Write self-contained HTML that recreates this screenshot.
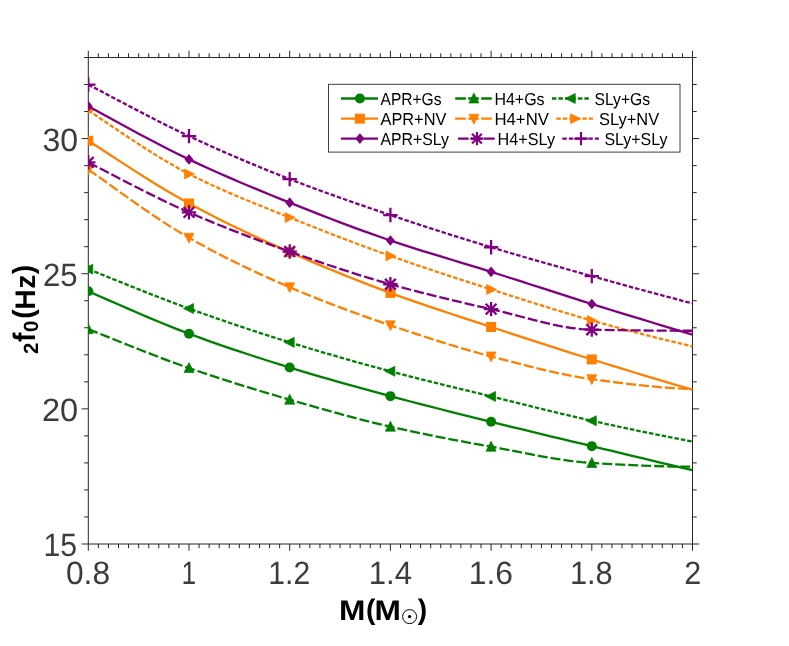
<!DOCTYPE html>
<html><head><meta charset="utf-8"><title>chart</title>
<style>html,body{margin:0;padding:0;background:#fff}svg{display:block;will-change:transform}text{text-rendering:geometricPrecision}</style>
</head><body>
<svg width="789" height="646" viewBox="0 0 789 646">
<rect width="789" height="646" fill="#fff"/>
<defs><clipPath id="c"><rect x="88.1" y="57.5" width="604.8" height="486.5"/></clipPath></defs>
<path d="M88.3 57.5H692.5V544H88.3ZM88.3 544v6.7M88.3 57.5v-6.7M98.37 544v4.2M98.37 57.5v-4.2M108.44 544v4.2M108.44 57.5v-4.2M118.51 544v4.2M118.51 57.5v-4.2M128.58 544v4.2M128.58 57.5v-4.2M138.65 544v4.2M138.65 57.5v-4.2M148.72 544v4.2M148.72 57.5v-4.2M158.79 544v4.2M158.79 57.5v-4.2M168.86 544v4.2M168.86 57.5v-4.2M178.93 544v4.2M178.93 57.5v-4.2M189 544v6.7M189 57.5v-6.7M199.07 544v4.2M199.07 57.5v-4.2M209.14 544v4.2M209.14 57.5v-4.2M219.21 544v4.2M219.21 57.5v-4.2M229.28 544v4.2M229.28 57.5v-4.2M239.35 544v4.2M239.35 57.5v-4.2M249.42 544v4.2M249.42 57.5v-4.2M259.49 544v4.2M259.49 57.5v-4.2M269.56 544v4.2M269.56 57.5v-4.2M279.63 544v4.2M279.63 57.5v-4.2M289.7 544v6.7M289.7 57.5v-6.7M299.77 544v4.2M299.77 57.5v-4.2M309.84 544v4.2M309.84 57.5v-4.2M319.91 544v4.2M319.91 57.5v-4.2M329.98 544v4.2M329.98 57.5v-4.2M340.05 544v4.2M340.05 57.5v-4.2M350.12 544v4.2M350.12 57.5v-4.2M360.19 544v4.2M360.19 57.5v-4.2M370.26 544v4.2M370.26 57.5v-4.2M380.33 544v4.2M380.33 57.5v-4.2M390.4 544v6.7M390.4 57.5v-6.7M400.47 544v4.2M400.47 57.5v-4.2M410.54 544v4.2M410.54 57.5v-4.2M420.61 544v4.2M420.61 57.5v-4.2M430.68 544v4.2M430.68 57.5v-4.2M440.75 544v4.2M440.75 57.5v-4.2M450.82 544v4.2M450.82 57.5v-4.2M460.89 544v4.2M460.89 57.5v-4.2M470.96 544v4.2M470.96 57.5v-4.2M481.03 544v4.2M481.03 57.5v-4.2M491.1 544v6.7M491.1 57.5v-6.7M501.17 544v4.2M501.17 57.5v-4.2M511.24 544v4.2M511.24 57.5v-4.2M521.31 544v4.2M521.31 57.5v-4.2M531.38 544v4.2M531.38 57.5v-4.2M541.45 544v4.2M541.45 57.5v-4.2M551.52 544v4.2M551.52 57.5v-4.2M561.59 544v4.2M561.59 57.5v-4.2M571.66 544v4.2M571.66 57.5v-4.2M581.73 544v4.2M581.73 57.5v-4.2M591.8 544v6.7M591.8 57.5v-6.7M601.87 544v4.2M601.87 57.5v-4.2M611.94 544v4.2M611.94 57.5v-4.2M622.01 544v4.2M622.01 57.5v-4.2M632.08 544v4.2M632.08 57.5v-4.2M642.15 544v4.2M642.15 57.5v-4.2M652.22 544v4.2M652.22 57.5v-4.2M662.29 544v4.2M662.29 57.5v-4.2M672.36 544v4.2M672.36 57.5v-4.2M682.43 544v4.2M682.43 57.5v-4.2M692.5 544v6.7M692.5 57.5v-6.7M88.3 544h-6.7M692.5 544h6.7M88.3 516.97h-4.2M692.5 516.97h4.2M88.3 489.94h-4.2M692.5 489.94h4.2M88.3 462.92h-4.2M692.5 462.92h4.2M88.3 435.89h-4.2M692.5 435.89h4.2M88.3 408.86h-6.7M692.5 408.86h6.7M88.3 381.83h-4.2M692.5 381.83h4.2M88.3 354.81h-4.2M692.5 354.81h4.2M88.3 327.78h-4.2M692.5 327.78h4.2M88.3 300.75h-4.2M692.5 300.75h4.2M88.3 273.72h-6.7M692.5 273.72h6.7M88.3 246.69h-4.2M692.5 246.69h4.2M88.3 219.67h-4.2M692.5 219.67h4.2M88.3 192.64h-4.2M692.5 192.64h4.2M88.3 165.61h-4.2M692.5 165.61h4.2M88.3 138.58h-6.7M692.5 138.58h6.7M88.3 111.56h-4.2M692.5 111.56h4.2M88.3 84.53h-4.2M692.5 84.53h4.2M88.3 57.5h-4.2M692.5 57.5h4.2" fill="none" stroke="#262626" stroke-width="1"/>
<g clip-path="url(#c)">
<polyline points="88.3,291.29 98.37,295.68 108.44,300.1 118.51,304.51 128.58,308.91 138.65,313.27 148.72,317.57 158.79,321.78 168.86,325.9 178.93,329.88 189,333.72 199.07,337.44 209.14,341.06 219.21,344.6 229.28,348.06 239.35,351.44 249.42,354.76 259.49,358.02 269.56,361.23 279.63,364.39 289.7,367.51 299.77,370.58 309.84,373.59 319.91,376.55 329.98,379.46 340.05,382.32 350.12,385.15 360.19,387.94 370.26,390.7 380.33,393.44 390.4,396.16 400.47,398.85 410.54,401.5 420.61,404.11 430.68,406.7 440.75,409.26 450.82,411.8 460.89,414.32 470.96,416.83 481.03,419.34 491.1,421.83 501.17,424.32 511.24,426.79 521.31,429.24 531.38,431.67 541.45,434.1 551.52,436.51 561.59,438.92 571.66,441.33 581.73,443.74 591.8,446.16 601.87,448.58 611.94,450.99 622.01,453.4 632.08,455.81 642.15,458.22 652.22,460.62 662.29,463.03 672.36,465.42 682.43,467.82 692.5,470.21" fill="none" stroke="#008000" stroke-width="2.3" stroke-linejoin="round"/>
<circle cx="88.3" cy="291.29" r="5" fill="#008000"/>
<circle cx="189" cy="333.72" r="5" fill="#008000"/>
<circle cx="289.7" cy="367.51" r="5" fill="#008000"/>
<circle cx="390.4" cy="396.16" r="5" fill="#008000"/>
<circle cx="491.1" cy="421.83" r="5" fill="#008000"/>
<circle cx="591.8" cy="446.16" r="5" fill="#008000"/>
<polyline points="88.3,329.13 98.37,333.15 108.44,337.18 118.51,341.22 128.58,345.24 138.65,349.23 148.72,353.17 158.79,357.03 168.86,360.82 178.93,364.49 189,368.05 199.07,371.5 209.14,374.87 219.21,378.17 229.28,381.41 239.35,384.58 249.42,387.69 259.49,390.76 269.56,393.77 279.63,396.74 289.7,399.67 299.77,402.58 309.84,405.48 319.91,408.35 329.98,411.18 340.05,413.96 350.12,416.67 360.19,419.32 370.26,421.88 380.33,424.34 390.4,426.7 400.47,428.96 410.54,431.15 420.61,433.27 430.68,435.33 440.75,437.33 450.82,439.29 460.89,441.2 470.96,443.06 481.03,444.9 491.1,446.7 501.17,448.55 511.24,450.48 521.31,452.45 531.38,454.4 541.45,456.28 551.52,458.04 561.59,459.64 571.66,461.02 581.73,462.13 591.8,462.92 601.87,463.52 611.94,464.1 622.01,464.64 632.08,465.13 642.15,465.58 652.22,465.96 662.29,466.27 672.36,466.5 682.43,466.65 692.5,466.7" fill="none" stroke="#008000" stroke-width="2.3" stroke-linejoin="round" stroke-dasharray="10 3"/>
<path transform="translate(88.3 329.13)" d="M0 -5.5L5 4.5L-5 4.5Z" fill="#008000" stroke="#008000" stroke-width="0.7" stroke-linejoin="miter"/>
<path transform="translate(189 368.05)" d="M0 -5.5L5 4.5L-5 4.5Z" fill="#008000" stroke="#008000" stroke-width="0.7" stroke-linejoin="miter"/>
<path transform="translate(289.7 399.67)" d="M0 -5.5L5 4.5L-5 4.5Z" fill="#008000" stroke="#008000" stroke-width="0.7" stroke-linejoin="miter"/>
<path transform="translate(390.4 426.7)" d="M0 -5.5L5 4.5L-5 4.5Z" fill="#008000" stroke="#008000" stroke-width="0.7" stroke-linejoin="miter"/>
<path transform="translate(491.1 446.7)" d="M0 -5.5L5 4.5L-5 4.5Z" fill="#008000" stroke="#008000" stroke-width="0.7" stroke-linejoin="miter"/>
<path transform="translate(591.8 462.92)" d="M0 -5.5L5 4.5L-5 4.5Z" fill="#008000" stroke="#008000" stroke-width="0.7" stroke-linejoin="miter"/>
<polyline points="88.3,269.13 98.37,273.17 108.44,277.23 118.51,281.28 128.58,285.33 138.65,289.35 148.72,293.33 158.79,297.25 168.86,301.11 178.93,304.9 189,308.59 199.07,312.2 209.14,315.76 219.21,319.27 229.28,322.73 239.35,326.14 249.42,329.49 259.49,332.79 269.56,336.04 279.63,339.23 289.7,342.37 299.77,345.46 309.84,348.51 319.91,351.51 329.98,354.46 340.05,357.37 350.12,360.23 360.19,363.06 370.26,365.84 380.33,368.58 390.4,371.29 400.47,373.95 410.54,376.56 420.61,379.12 430.68,381.64 440.75,384.13 450.82,386.6 460.89,389.06 470.96,391.51 481.03,393.96 491.1,396.43 501.17,398.91 511.24,401.4 521.31,403.9 531.38,406.4 541.45,408.88 551.52,411.33 561.59,413.76 571.66,416.14 581.73,418.48 591.8,420.75 601.87,422.98 611.94,425.18 622.01,427.35 632.08,429.48 642.15,431.58 652.22,433.65 662.29,435.68 672.36,437.68 682.43,439.64 692.5,441.56" fill="none" stroke="#008000" stroke-width="2.3" stroke-linejoin="round" stroke-dasharray="4.5 2"/>
<path transform="translate(88.3 269.13)" d="M-5.5 0L4.5 -5L4.5 5Z" fill="#008000" stroke="#008000" stroke-width="0.7" stroke-linejoin="miter"/>
<path transform="translate(189 308.59)" d="M-5.5 0L4.5 -5L4.5 5Z" fill="#008000" stroke="#008000" stroke-width="0.7" stroke-linejoin="miter"/>
<path transform="translate(289.7 342.37)" d="M-5.5 0L4.5 -5L4.5 5Z" fill="#008000" stroke="#008000" stroke-width="0.7" stroke-linejoin="miter"/>
<path transform="translate(390.4 371.29)" d="M-5.5 0L4.5 -5L4.5 5Z" fill="#008000" stroke="#008000" stroke-width="0.7" stroke-linejoin="miter"/>
<path transform="translate(491.1 396.43)" d="M-5.5 0L4.5 -5L4.5 5Z" fill="#008000" stroke="#008000" stroke-width="0.7" stroke-linejoin="miter"/>
<path transform="translate(591.8 420.75)" d="M-5.5 0L4.5 -5L4.5 5Z" fill="#008000" stroke="#008000" stroke-width="0.7" stroke-linejoin="miter"/>
<polyline points="88.3,140.75 98.37,147.26 108.44,153.81 118.51,160.37 128.58,166.89 138.65,173.35 148.72,179.71 158.79,185.93 168.86,191.99 178.93,197.84 189,203.45 199.07,208.85 209.14,214.1 219.21,219.22 229.28,224.2 239.35,229.08 249.42,233.84 259.49,238.52 269.56,243.11 279.63,247.64 289.7,252.1 299.77,256.5 309.84,260.84 319.91,265.1 329.98,269.29 340.05,273.41 350.12,277.46 360.19,281.44 370.26,285.34 380.33,289.16 390.4,292.91 400.47,296.57 410.54,300.14 420.61,303.63 430.68,307.06 440.75,310.43 450.82,313.76 460.89,317.07 470.96,320.36 481.03,323.66 491.1,326.97 501.17,330.28 511.24,333.59 521.31,336.88 531.38,340.16 541.45,343.42 551.52,346.66 561.59,349.88 571.66,353.08 581.73,356.25 591.8,359.4 601.87,362.52 611.94,365.62 622.01,368.7 632.08,371.76 642.15,374.8 652.22,377.82 662.29,380.81 672.36,383.79 682.43,386.74 692.5,389.67" fill="none" stroke="#ff8000" stroke-width="2.3" stroke-linejoin="round"/>
<rect x="83.3" y="135.75" width="10" height="10" fill="#ff8000"/>
<rect x="184" y="198.45" width="10" height="10" fill="#ff8000"/>
<rect x="284.7" y="247.1" width="10" height="10" fill="#ff8000"/>
<rect x="385.4" y="287.91" width="10" height="10" fill="#ff8000"/>
<rect x="486.1" y="321.97" width="10" height="10" fill="#ff8000"/>
<rect x="586.8" y="354.4" width="10" height="10" fill="#ff8000"/>
<polyline points="88.3,169.39 98.37,176.56 108.44,183.79 118.51,191.02 128.58,198.21 138.65,205.31 148.72,212.28 158.79,219.05 168.86,225.6 178.93,231.85 189,237.78 199.07,243.42 209.14,248.89 219.21,254.18 229.28,259.32 239.35,264.3 249.42,269.14 259.49,273.84 269.56,278.42 279.63,282.88 289.7,287.24 299.77,291.48 309.84,295.61 319.91,299.64 329.98,303.56 340.05,307.39 350.12,311.13 360.19,314.79 370.26,318.38 380.33,321.89 390.4,325.35 400.47,328.75 410.54,332.12 420.61,335.44 430.68,338.7 440.75,341.89 450.82,344.99 460.89,348.01 470.96,350.93 481.03,353.74 491.1,356.43 501.17,359.06 511.24,361.7 521.31,364.31 531.38,366.86 541.45,369.32 551.52,371.66 561.59,373.84 571.66,375.83 581.73,377.61 591.8,379.13 601.87,380.5 611.94,381.83 622.01,383.1 632.08,384.3 642.15,385.41 652.22,386.42 662.29,387.31 672.36,388.07 682.43,388.68 692.5,389.13" fill="none" stroke="#ff8000" stroke-width="2.3" stroke-linejoin="round" stroke-dasharray="10 3"/>
<path transform="translate(88.3 169.39)" d="M0 5.5L5 -4.5L-5 -4.5Z" fill="#ff8000" stroke="#ff8000" stroke-width="0.7" stroke-linejoin="miter"/>
<path transform="translate(189 237.78)" d="M0 5.5L5 -4.5L-5 -4.5Z" fill="#ff8000" stroke="#ff8000" stroke-width="0.7" stroke-linejoin="miter"/>
<path transform="translate(289.7 287.24)" d="M0 5.5L5 -4.5L-5 -4.5Z" fill="#ff8000" stroke="#ff8000" stroke-width="0.7" stroke-linejoin="miter"/>
<path transform="translate(390.4 325.35)" d="M0 5.5L5 -4.5L-5 -4.5Z" fill="#ff8000" stroke="#ff8000" stroke-width="0.7" stroke-linejoin="miter"/>
<path transform="translate(491.1 356.43)" d="M0 5.5L5 -4.5L-5 -4.5Z" fill="#ff8000" stroke="#ff8000" stroke-width="0.7" stroke-linejoin="miter"/>
<path transform="translate(591.8 379.13)" d="M0 5.5L5 -4.5L-5 -4.5Z" fill="#ff8000" stroke="#ff8000" stroke-width="0.7" stroke-linejoin="miter"/>
<polyline points="88.3,110.47 98.37,117.18 108.44,123.94 118.51,130.72 128.58,137.45 138.65,144.09 148.72,150.58 158.79,156.87 168.86,162.9 178.93,168.63 189,173.99 199.07,179.02 209.14,183.82 219.21,188.41 229.28,192.83 239.35,197.1 249.42,201.27 259.49,205.36 269.56,209.41 279.63,213.45 289.7,217.5 299.77,221.56 309.84,225.57 319.91,229.54 329.98,233.45 340.05,237.32 350.12,241.14 360.19,244.9 370.26,248.62 380.33,252.28 390.4,255.88 400.47,259.43 410.54,262.92 420.61,266.35 430.68,269.74 440.75,273.08 450.82,276.39 460.89,279.67 470.96,282.93 481.03,286.17 491.1,289.4 501.17,292.63 511.24,295.85 521.31,299.07 531.38,302.27 541.45,305.44 551.52,308.56 561.59,311.64 571.66,314.66 581.73,317.61 591.8,320.48 601.87,323.29 611.94,326.05 622.01,328.77 632.08,331.44 642.15,334.07 652.22,336.64 662.29,339.17 672.36,341.64 682.43,344.06 692.5,346.43" fill="none" stroke="#ff8000" stroke-width="2.3" stroke-linejoin="round" stroke-dasharray="4.5 2"/>
<path transform="translate(88.3 110.47)" d="M5.5 0L-4.5 -5L-4.5 5Z" fill="#ff8000" stroke="#ff8000" stroke-width="0.7" stroke-linejoin="miter"/>
<path transform="translate(189 173.99)" d="M5.5 0L-4.5 -5L-4.5 5Z" fill="#ff8000" stroke="#ff8000" stroke-width="0.7" stroke-linejoin="miter"/>
<path transform="translate(289.7 217.5)" d="M5.5 0L-4.5 -5L-4.5 5Z" fill="#ff8000" stroke="#ff8000" stroke-width="0.7" stroke-linejoin="miter"/>
<path transform="translate(390.4 255.88)" d="M5.5 0L-4.5 -5L-4.5 5Z" fill="#ff8000" stroke="#ff8000" stroke-width="0.7" stroke-linejoin="miter"/>
<path transform="translate(491.1 289.4)" d="M5.5 0L-4.5 -5L-4.5 5Z" fill="#ff8000" stroke="#ff8000" stroke-width="0.7" stroke-linejoin="miter"/>
<path transform="translate(591.8 320.48)" d="M5.5 0L-4.5 -5L-4.5 5Z" fill="#ff8000" stroke="#ff8000" stroke-width="0.7" stroke-linejoin="miter"/>
<polyline points="88.3,106.15 98.37,111.65 108.44,117.17 118.51,122.69 128.58,128.19 138.65,133.65 148.72,139.04 158.79,144.33 168.86,149.5 178.93,154.53 189,159.39 199.07,164.11 209.14,168.71 219.21,173.21 229.28,177.61 239.35,181.94 249.42,186.19 259.49,190.37 269.56,194.5 279.63,198.59 289.7,202.64 299.77,206.66 309.84,210.64 319.91,214.59 329.98,218.48 340.05,222.32 350.12,226.1 360.19,229.81 370.26,233.45 380.33,237 390.4,240.48 400.47,243.85 410.54,247.11 420.61,250.29 430.68,253.4 440.75,256.47 450.82,259.51 460.89,262.55 470.96,265.6 481.03,268.69 491.1,271.83 501.17,275.02 511.24,278.24 521.31,281.47 531.38,284.72 541.45,287.96 551.52,291.21 561.59,294.44 571.66,297.65 581.73,300.84 591.8,303.99 601.87,307.12 611.94,310.23 622.01,313.32 632.08,316.4 642.15,319.46 652.22,322.51 662.29,325.54 672.36,328.56 682.43,331.55 692.5,334.53" fill="none" stroke="#800080" stroke-width="2.3" stroke-linejoin="round"/>
<path transform="translate(88.3 106.15)" d="M0 -5.3L4.5 0L0 5.3L-4.5 0Z" fill="#800080"/>
<path transform="translate(189 159.39)" d="M0 -5.3L4.5 0L0 5.3L-4.5 0Z" fill="#800080"/>
<path transform="translate(289.7 202.64)" d="M0 -5.3L4.5 0L0 5.3L-4.5 0Z" fill="#800080"/>
<path transform="translate(390.4 240.48)" d="M0 -5.3L4.5 0L0 5.3L-4.5 0Z" fill="#800080"/>
<path transform="translate(491.1 271.83)" d="M0 -5.3L4.5 0L0 5.3L-4.5 0Z" fill="#800080"/>
<path transform="translate(591.8 303.99)" d="M0 -5.3L4.5 0L0 5.3L-4.5 0Z" fill="#800080"/>
<polyline points="88.3,162.37 98.37,167.55 108.44,172.77 118.51,177.99 128.58,183.18 138.65,188.33 148.72,193.4 158.79,198.36 168.86,203.2 178.93,207.87 189,212.37 199.07,216.7 209.14,220.93 219.21,225.05 229.28,229.07 239.35,233 249.42,236.85 259.49,240.62 269.56,244.33 279.63,247.97 289.7,251.56 299.77,255.11 309.84,258.62 319.91,262.08 329.98,265.49 340.05,268.84 350.12,272.11 360.19,275.29 370.26,278.39 380.33,281.38 390.4,284.26 400.47,287.05 410.54,289.75 420.61,292.37 430.68,294.92 440.75,297.42 450.82,299.85 460.89,302.23 470.96,304.57 481.03,306.86 491.1,309.13 501.17,311.51 511.24,314.08 521.31,316.74 531.38,319.4 541.45,321.95 551.52,324.3 561.59,326.35 571.66,327.99 581.73,329.13 591.8,329.67 601.87,329.87 611.94,330.05 622.01,330.21 632.08,330.35 642.15,330.47 652.22,330.57 662.29,330.65 672.36,330.7 682.43,330.74 692.5,330.75" fill="none" stroke="#800080" stroke-width="2.3" stroke-linejoin="round" stroke-dasharray="10 3"/>
<path transform="translate(88.3 162.37)" d="M-7.2 0H7.2M0 -7.2V7.2M-5.4 -5.4L5.4 5.4M-5.4 5.4L5.4 -5.4" fill="none" stroke="#800080" stroke-width="2.3" stroke-linecap="butt"/>
<path transform="translate(189 212.37)" d="M-7.2 0H7.2M0 -7.2V7.2M-5.4 -5.4L5.4 5.4M-5.4 5.4L5.4 -5.4" fill="none" stroke="#800080" stroke-width="2.3" stroke-linecap="butt"/>
<path transform="translate(289.7 251.56)" d="M-7.2 0H7.2M0 -7.2V7.2M-5.4 -5.4L5.4 5.4M-5.4 5.4L5.4 -5.4" fill="none" stroke="#800080" stroke-width="2.3" stroke-linecap="butt"/>
<path transform="translate(390.4 284.26)" d="M-7.2 0H7.2M0 -7.2V7.2M-5.4 -5.4L5.4 5.4M-5.4 5.4L5.4 -5.4" fill="none" stroke="#800080" stroke-width="2.3" stroke-linecap="butt"/>
<path transform="translate(491.1 309.13)" d="M-7.2 0H7.2M0 -7.2V7.2M-5.4 -5.4L5.4 5.4M-5.4 5.4L5.4 -5.4" fill="none" stroke="#800080" stroke-width="2.3" stroke-linecap="butt"/>
<path transform="translate(591.8 329.67)" d="M-7.2 0H7.2M0 -7.2V7.2M-5.4 -5.4L5.4 5.4M-5.4 5.4L5.4 -5.4" fill="none" stroke="#800080" stroke-width="2.3" stroke-linecap="butt"/>
<polyline points="88.3,84.53 98.37,89.84 108.44,95.17 118.51,100.5 128.58,105.82 138.65,111.09 148.72,116.31 158.79,121.44 168.86,126.47 178.93,131.38 189,136.15 199.07,140.8 209.14,145.37 219.21,149.86 229.28,154.27 239.35,158.61 249.42,162.86 259.49,167.04 269.56,171.15 279.63,175.17 289.7,179.12 299.77,183 309.84,186.79 319.91,190.51 329.98,194.16 340.05,197.75 350.12,201.29 360.19,204.78 370.26,208.24 380.33,211.67 390.4,215.07 400.47,218.45 410.54,221.79 420.61,225.09 430.68,228.36 440.75,231.59 450.82,234.79 460.89,237.95 470.96,241.08 481.03,244.17 491.1,247.24 501.17,250.26 511.24,253.24 521.31,256.19 531.38,259.1 541.45,261.99 551.52,264.85 561.59,267.7 571.66,270.53 581.73,273.34 591.8,276.15 601.87,278.96 611.94,281.74 622.01,284.51 632.08,287.27 642.15,290 652.22,292.73 662.29,295.43 672.36,298.12 682.43,300.8 692.5,303.45" fill="none" stroke="#800080" stroke-width="2.3" stroke-linejoin="round" stroke-dasharray="4.5 2"/>
<path transform="translate(88.3 84.53)" d="M-7.2 0H7.2M0 -7.2V7.2" fill="none" stroke="#800080" stroke-width="2.3" stroke-linecap="butt"/>
<path transform="translate(189 136.15)" d="M-7.2 0H7.2M0 -7.2V7.2" fill="none" stroke="#800080" stroke-width="2.3" stroke-linecap="butt"/>
<path transform="translate(289.7 179.12)" d="M-7.2 0H7.2M0 -7.2V7.2" fill="none" stroke="#800080" stroke-width="2.3" stroke-linecap="butt"/>
<path transform="translate(390.4 215.07)" d="M-7.2 0H7.2M0 -7.2V7.2" fill="none" stroke="#800080" stroke-width="2.3" stroke-linecap="butt"/>
<path transform="translate(491.1 247.24)" d="M-7.2 0H7.2M0 -7.2V7.2" fill="none" stroke="#800080" stroke-width="2.3" stroke-linecap="butt"/>
<path transform="translate(591.8 276.15)" d="M-7.2 0H7.2M0 -7.2V7.2" fill="none" stroke="#800080" stroke-width="2.3" stroke-linecap="butt"/>
</g>
<g font-family="Liberation Sans, sans-serif" font-size="32.3" fill="#3c3c3c">
<text x="65.95" y="584.1" textLength="44.15" lengthAdjust="spacingAndGlyphs">0.8</text>
<text x="181.38" y="584.1" textLength="14.64" lengthAdjust="spacingAndGlyphs">1</text>
<text x="268.35" y="584.1" textLength="41.78" lengthAdjust="spacingAndGlyphs">1.2</text>
<text x="368.83" y="584.1" textLength="43.16" lengthAdjust="spacingAndGlyphs">1.4</text>
<text x="468.81" y="584.1" textLength="44.24" lengthAdjust="spacingAndGlyphs">1.6</text>
<text x="569.88" y="584.1" textLength="42.76" lengthAdjust="spacingAndGlyphs">1.8</text>
<text x="684.24" y="584.1" textLength="16.99" lengthAdjust="spacingAndGlyphs">2</text>
<text x="42.42" y="150.58" textLength="35.67" lengthAdjust="spacingAndGlyphs">30</text>
<text x="42.9" y="285.72" textLength="34.68" lengthAdjust="spacingAndGlyphs">25</text>
<text x="41.92" y="420.86" textLength="36.23" lengthAdjust="spacingAndGlyphs">20</text>
<text x="43.42" y="556" textLength="33.63" lengthAdjust="spacingAndGlyphs">15</text>
</g>
<g font-family="Liberation Sans, sans-serif" font-weight="bold" fill="#000">
<g text-anchor="middle" font-size="28.3">
<text transform="translate(352.2 619.6) scale(1.12 1)">M</text>
<text transform="translate(370.6 618.8) scale(1 1)">(</text>
<text transform="translate(387.7 619.6) scale(1.12 1)">M</text>
<text transform="translate(422.4 618.8) scale(1 1)">)</text>
</g>
<circle cx="409.6" cy="616.6" r="7" fill="none" stroke="#000" stroke-width="1"/>
<circle cx="409.6" cy="616.6" r="1.7" fill="#000"/>
<g transform="translate(35 353.5) rotate(-90)" text-anchor="middle">
<text transform="translate(5.25 3.4) scale(1 1)" font-size="20.5">2</text>
<text transform="translate(16.3 0) scale(1 1.1)" font-size="28.3">f</text>
<text transform="translate(27.15 3.4) scale(1 1)" font-size="20.5">0</text>
<text transform="translate(39.55 -1.6) scale(1 1.03)" font-size="28.3">(</text>
<text transform="translate(54 0) scale(1 1)" font-size="28.3">H</text>
<text transform="translate(71.8 0) scale(1 1)" font-size="28.3">z</text>
<text transform="translate(83.9 -1.6) scale(1 1.03)" font-size="28.3">)</text>
</g>
</g>
<rect x="328.5" y="84.3" width="351.5" height="67.8" fill="#fff" stroke="#404040" stroke-width="1"/>
<g font-family="Liberation Sans, sans-serif" font-size="17.3" fill="#000">
<path d="M341 98.5H378" stroke="#008000" stroke-width="2.3" fill="none"/>
<circle cx="359.9" cy="98.5" r="5" fill="#008000"/>
<text x="380.5" y="104.8" textLength="61.01" lengthAdjust="spacingAndGlyphs">APR+Gs</text>
<path d="M341 118.7H378" stroke="#ff8000" stroke-width="2.3" fill="none"/>
<rect x="354.9" y="113.7" width="10" height="10" fill="#ff8000"/>
<text x="380.49" y="125" textLength="65.91" lengthAdjust="spacingAndGlyphs">APR+NV</text>
<path d="M341 138.6H378" stroke="#800080" stroke-width="2.3" fill="none"/>
<path transform="translate(359.9 138.6)" d="M0 -5.3L4.5 0L0 5.3L-4.5 0Z" fill="#800080"/>
<text x="380.5" y="144.9" textLength="68.5" lengthAdjust="spacingAndGlyphs">APR+SLy</text>
<path d="M455.2 98.5H491.8" stroke="#008000" stroke-width="2.3" fill="none" stroke-dasharray="10.7 2.3"/>
<path transform="translate(473.9 98.5)" d="M0 -5.5L5 4.5L-5 4.5Z" fill="#008000" stroke="#008000" stroke-width="0.7" stroke-linejoin="miter"/>
<text x="494.43" y="104.8" textLength="50.16" lengthAdjust="spacingAndGlyphs">H4+Gs</text>
<path d="M455.2 118.7H491.8" stroke="#ff8000" stroke-width="2.3" fill="none" stroke-dasharray="10.7 2.3"/>
<path transform="translate(473.9 118.7)" d="M0 5.5L5 -4.5L-5 -4.5Z" fill="#ff8000" stroke="#ff8000" stroke-width="0.7" stroke-linejoin="miter"/>
<text x="494.45" y="125" textLength="54.47" lengthAdjust="spacingAndGlyphs">H4+NV</text>
<path d="M458 138.6H495" stroke="#800080" stroke-width="2.3" fill="none" stroke-dasharray="10.7 2.3"/>
<path transform="translate(476.9 138.6)" d="M-6.7 0H6.7M0 -6.7V6.7M-4.9 -4.9L4.9 4.9M-4.9 4.9L4.9 -4.9" fill="none" stroke="#800080" stroke-width="2.1" stroke-linecap="butt"/>
<text x="497.51" y="144.9" textLength="57.57" lengthAdjust="spacingAndGlyphs">H4+SLy</text>
<path d="M551.9 98.5H588.8" stroke="#008000" stroke-width="2.3" fill="none" stroke-dasharray="4.5 2"/>
<path transform="translate(570.75 98.5)" d="M-5.5 0L4.5 -5L4.5 5Z" fill="#008000" stroke="#008000" stroke-width="0.7" stroke-linejoin="miter"/>
<text x="594.5" y="104.8" textLength="55.54" lengthAdjust="spacingAndGlyphs">SLy+Gs</text>
<path d="M556.3 118.7H592.9" stroke="#ff8000" stroke-width="2.3" fill="none" stroke-dasharray="4.5 2"/>
<path transform="translate(575 118.7)" d="M5.5 0L-4.5 -5L-4.5 5Z" fill="#ff8000" stroke="#ff8000" stroke-width="0.7" stroke-linejoin="miter"/>
<text x="599.02" y="125" textLength="60.11" lengthAdjust="spacingAndGlyphs">SLy+NV</text>
<path d="M562.3 138.6H598.9" stroke="#800080" stroke-width="2.3" fill="none" stroke-dasharray="4.5 2"/>
<path transform="translate(581 138.6)" d="M-6.7 0H6.7M0 -6.7V6.7" fill="none" stroke="#800080" stroke-width="2.1" stroke-linecap="butt"/>
<text x="604.42" y="144.9" textLength="63.08" lengthAdjust="spacingAndGlyphs">SLy+SLy</text>
</g>
</svg>
</body></html>
